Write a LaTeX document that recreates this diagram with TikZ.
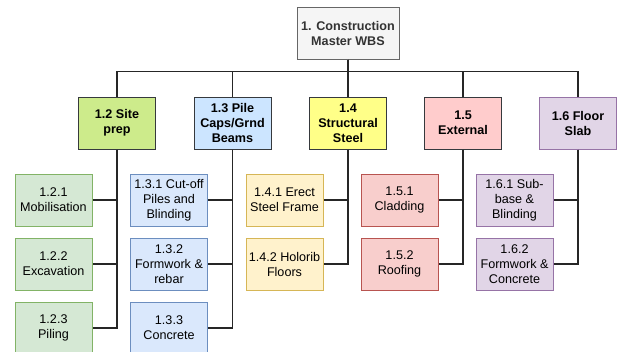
\documentclass[tikz,border=0pt]{standalone}
\usepackage{fontspec}
\setmainfont{Liberation Sans}
\definecolor{rootfill}{HTML}{F5F5F5}
\definecolor{rootline}{HTML}{666666}
\definecolor{headline}{HTML}{36393D}
\definecolor{sitefill}{HTML}{CDEB8B}
\definecolor{pilefill}{HTML}{CCE5FF}
\definecolor{steelfill}{HTML}{FFFF88}
\definecolor{extfill}{HTML}{FFCCCC}
\definecolor{greenfill}{HTML}{D5E8D4}
\definecolor{greenline}{HTML}{82B366}
\definecolor{bluefill}{HTML}{DAE8FC}
\definecolor{blueline}{HTML}{6C8EBF}
\definecolor{yellowfill}{HTML}{FFF2CC}
\definecolor{yellowline}{HTML}{D6B656}
\definecolor{redfill}{HTML}{F8CECC}
\definecolor{redline}{HTML}{B85450}
\definecolor{purplefill}{HTML}{E1D5E7}
\definecolor{purpleline}{HTML}{9673A6}
\tikzset{
  box/.style={draw, line width=1pt, minimum width=77pt, minimum height=52pt,
    inner sep=1pt, align=center, font=\fontsize{12.6}{15}\selectfont},
  top/.style={box, minimum width=102pt, fill=rootfill, draw=rootline,
    text=black!80, font=\fontsize{12.6}{15}\selectfont\bfseries},
  head/.style={box, fill=#1, draw=headline, font=\fontsize{12.6}{15}\selectfont\bfseries},
  leaf/.style={box, fill=#1fill, draw=#1line},
  link/.style={line width=1.1pt, black!85}
}
\begin{document}
\begin{tikzpicture}[x=1pt, y=-1pt]
\useasboundingbox (0,0) rectangle (617,351);
\node[top] (wbs) at (348,33) {1. Construction\\Master WBS};
% second level
\node[head=sitefill] (site) at (117,123) {1.2 Site\\prep};
\node[head=pilefill] (pile) at (232.5,123) {1.3 Pile\\Caps/Grnd\\Beams};
\node[head=steelfill] (steel) at (348,123) {1.4\\Structural\\Steel};
\node[head=extfill] (ext) at (463,123) {1.5\\External};
\node[head=purplefill, draw=purpleline] (slab) at (578,123) {1.6 Floor\\Slab};
% work packages
\node[leaf=green] (mob) at (53.5,200) {1.2.1\\Mobilisation};
\node[leaf=green] (exc) at (53.5,264) {1.2.2\\Excavation};
\node[leaf=green] (pil) at (53.5,328) {1.2.3\\Piling};
\node[leaf=blue] (cut) at (169,200) {1.3.1 Cut-off\\Piles and\\Blinding};
\node[leaf=blue] (reb) at (169,264) {1.3.2\\Formwork \&\\rebar};
\node[leaf=blue] (con) at (169,328) {1.3.3\\Concrete};
\node[leaf=yellow] (erect) at (284.5,200) {1.4.1 Erect\\Steel Frame};
\node[leaf=yellow] (holo) at (284.5,264) {1.4.2 Holorib\\Floors};
\node[leaf=red] (clad) at (399.5,200) {1.5.1\\Cladding};
\node[leaf=red] (roof) at (399.5,264) {1.5.2\\Roofing};
\node[leaf=purple] (sub) at (514.5,200) {1.6.1 Sub-\\base \&\\Blinding};
\node[leaf=purple] (fcon) at (514.5,264) {1.6.2\\Formwork \&\\Concrete};
% connectors
\foreach \h in {site,pile,steel,ext,slab}
  \draw[link] (wbs.south) -- ++(0,12) -| (\h.north);
\foreach \h/\w in {site/mob,site/exc,site/pil,pile/cut,pile/reb,pile/con,
    steel/erect,steel/holo,ext/clad,ext/roof,slab/sub,slab/fcon}
  \draw[link] (\h.south) |- (\w.east);
\end{tikzpicture}
\end{document}
